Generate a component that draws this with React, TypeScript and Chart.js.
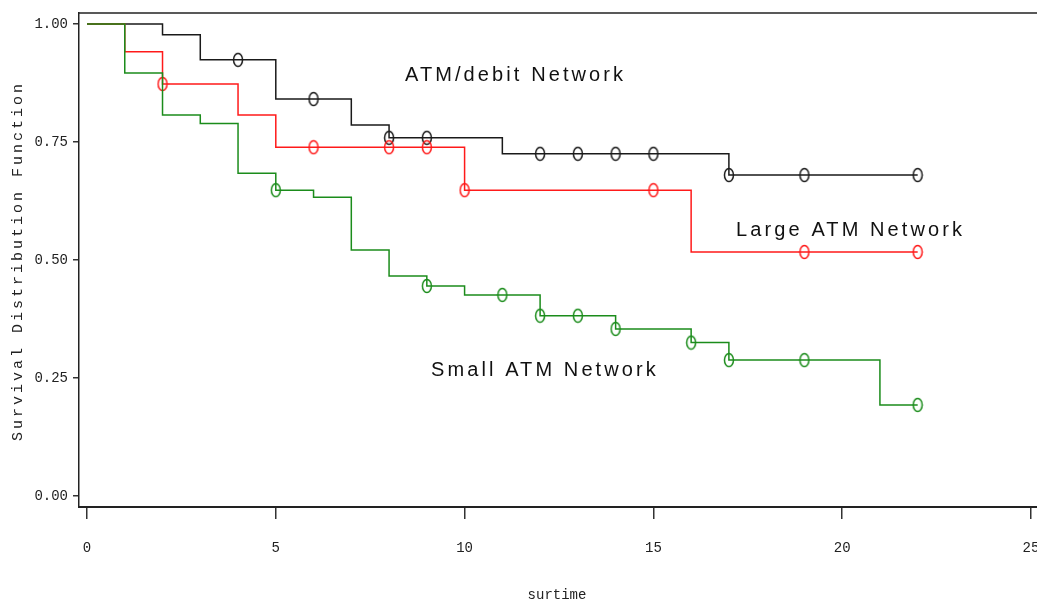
import React, { useEffect, useRef } from "react";
import { Chart, registerables } from "chart.js";

Chart.register(...registerables);

// ATM/debit Network (black)
const atmTimes = [0, 2, 3, 5, 7, 8, 11, 17, 22];
const atmSurv = [1, 0.977, 0.924, 0.841, 0.786, 0.759, 0.725, 0.68, 0.68];
const atmCensTimes = [4, 6, 8, 9, 12, 13, 14, 15, 17, 19, 22];
const atmCensSurv = [0.924, 0.841, 0.759, 0.759, 0.725, 0.725, 0.725, 0.725, 0.68, 0.68, 0.68];

// Large ATM Network (red)
const largeTimes = [0, 1, 2, 4, 5, 10, 16, 22];
const largeSurv = [1, 0.941, 0.873, 0.807, 0.739, 0.648, 0.517, 0.517];
const largeCensTimes = [2, 6, 8, 9, 10, 15, 19, 22];
const largeCensSurv = [0.873, 0.739, 0.739, 0.739, 0.648, 0.648, 0.517, 0.517];

// Small ATM Network (green)
const smallTimes = [0, 1, 2, 3, 4, 5, 6, 7, 8, 9, 10, 12, 14, 16, 17, 21, 22];
const smallSurv = [1, 0.896, 0.807, 0.789, 0.684, 0.648, 0.633, 0.521, 0.466, 0.445, 0.426, 0.382, 0.354, 0.325, 0.288, 0.193, 0.193];
const smallCensTimes = [5, 9, 11, 12, 13, 14, 16, 17, 19, 22];
const smallCensSurv = [0.648, 0.445, 0.426, 0.382, 0.382, 0.354, 0.325, 0.288, 0.288, 0.193];

const xTicks = [0, 5, 10, 15, 20, 25];
const yTicks = [0, 0.25, 0.5, 0.75, 1];

const curveLabels = ["ATM/debit Network", "Large ATM Network", "Small ATM Network"];
const labelX = [8.42, 17.19, 9.11];
const labelY = [0.879, 0.551, 0.254];

const xTitle = "surtime";
const yTitle = "Survival Distribution Function";

const BLACK = "#1a1a1a";
const RED = "#ff1a1a";
const GREEN = "#1b8c1b";

function pts(xs: number[], ys: number[]) {
  return xs.map((x, i) => ({ x, y: ys[i] }));
}

function ellipseMarker(color: string): HTMLCanvasElement {
  const c = document.createElement("canvas");
  c.width = 12;
  c.height = 16;
  const ctx = c.getContext("2d")!;
  ctx.strokeStyle = color;
  ctx.lineWidth = 1.5;
  ctx.beginPath();
  ctx.ellipse(6, 8, 4.5, 6.5, 0, 0, Math.PI * 2);
  ctx.stroke();
  return c;
}

export default function App() {
  const ref = useRef<HTMLCanvasElement | null>(null);

  useEffect(() => {
    if (!ref.current) return;

    const textPlugin = {
      id: "textPlugin",
      afterDraw(chart: any) {
        const ctx = chart.ctx;
        const area = chart.chartArea;
        const xs = chart.scales.x;
        const ys = chart.scales.y;
        ctx.save();
        // top frame line
        ctx.strokeStyle = "#222";
        ctx.lineWidth = 1.5;
        ctx.beginPath();
        ctx.moveTo(area.left, area.top);
        ctx.lineTo(area.right, area.top);
        ctx.stroke();

        // curve labels
        ctx.fillStyle = "#111";
        ctx.font = "20px 'Liberation Sans', Arial, sans-serif";
        ctx.textAlign = "left";
        ctx.textBaseline = "alphabetic";
        (ctx as any).letterSpacing = "3.1px";
        curveLabels.forEach((t, i) => {
          ctx.fillText(t, xs.getPixelForValue(labelX[i]), ys.getPixelForValue(labelY[i]));
        });

        // x tick labels
        ctx.fillStyle = "#222";
        ctx.font = "14px 'Liberation Mono', monospace";
        (ctx as any).letterSpacing = "0px";
        ctx.textAlign = "center";
        ctx.textBaseline = "middle";
        xTicks.forEach((v) => {
          ctx.fillText(String(v), xs.getPixelForValue(v), 548);
        });

        // axis titles
        ctx.fillText(xTitle, (xs.getPixelForValue(0) + xs.getPixelForValue(25)) / 2 - 2, 595);

        ctx.translate(18, 261);
        ctx.rotate(-Math.PI / 2);
        ctx.font = "15px 'Liberation Mono', monospace";
        (ctx as any).letterSpacing = "3px";
        ctx.fillText(yTitle, 0, 0);
        ctx.restore();
      },
    };

    const chart = new Chart(ref.current, {
      type: "line",
      data: {
        datasets: [
          {
            data: pts(smallCensTimes, smallCensSurv),
            showLine: false,
            pointStyle: ellipseMarker(GREEN) as any,
            pointRadius: 6,
            borderColor: GREEN,
          },
          {
            data: pts(smallTimes, smallSurv),
            stepped: true,
            borderColor: GREEN,
            borderWidth: 1.5,
            pointRadius: 0,
          },
          {
            data: pts(largeCensTimes, largeCensSurv),
            showLine: false,
            pointStyle: ellipseMarker(RED) as any,
            pointRadius: 6,
            borderColor: RED,
          },
          {
            data: pts(largeTimes, largeSurv),
            stepped: true,
            borderColor: RED,
            borderWidth: 1.5,
            pointRadius: 0,
          },
          {
            data: pts(atmCensTimes, atmCensSurv),
            showLine: false,
            pointStyle: ellipseMarker(BLACK) as any,
            pointRadius: 6,
            borderColor: BLACK,
          },
          {
            data: pts(atmTimes, atmSurv),
            stepped: true,
            borderColor: BLACK,
            borderWidth: 1.5,
            pointRadius: 0,
          },
        ],
      },
      options: {
        animation: false,
        responsive: false,
        events: [],
        layout: { autoPadding: false, padding: { top: 13, left: 0, right: 0, bottom: 0 } },
        plugins: { legend: { display: false }, tooltip: { enabled: false } },
        scales: {
          x: {
            type: "linear",
            min: -0.212,
            max: 25.16,
            afterBuildTicks: (s: any) => {
              s.ticks = xTicks.map((v) => ({ value: v }));
            },
            afterFit: (s: any) => {
              s.height = 95;
              s.paddingLeft = 0;
              s.paddingRight = 0;
            },
            grid: { drawOnChartArea: false, tickLength: 12, color: "#333", lineWidth: 1.5 },
            border: { display: true, color: "#222", width: 2 },
            ticks: { display: false },
          },
          y: {
            type: "linear",
            min: -0.0233,
            max: 1.0233,
            afterBuildTicks: (s: any) => {
              s.ticks = yTicks.map((v) => ({ value: v }));
            },
            afterFit: (s: any) => {
              s.width = 79;
              s.paddingTop = 0;
              s.paddingBottom = 0;
            },
            grid: { drawOnChartArea: false, tickLength: 6, color: "#333", lineWidth: 1.5 },
            border: { display: true, color: "#222", width: 1.5 },
            ticks: {
              padding: 5,
              color: "#222",
              font: { family: "'Liberation Mono', monospace", size: 14 },
              callback: (v: any) => Number(v).toFixed(2),
            },
          },
        },
      },
      plugins: [textPlugin],
    });

    return () => chart.destroy();
  }, []);

  return (
    <div style={{ position: "fixed", left: 0, top: 0, width: 1037, height: 602, overflow: "hidden", background: "#fff" }}>
      <canvas ref={ref} width={1037} height={602} style={{ width: 1037, height: 602, display: "block" }} />
    </div>
  );
}
